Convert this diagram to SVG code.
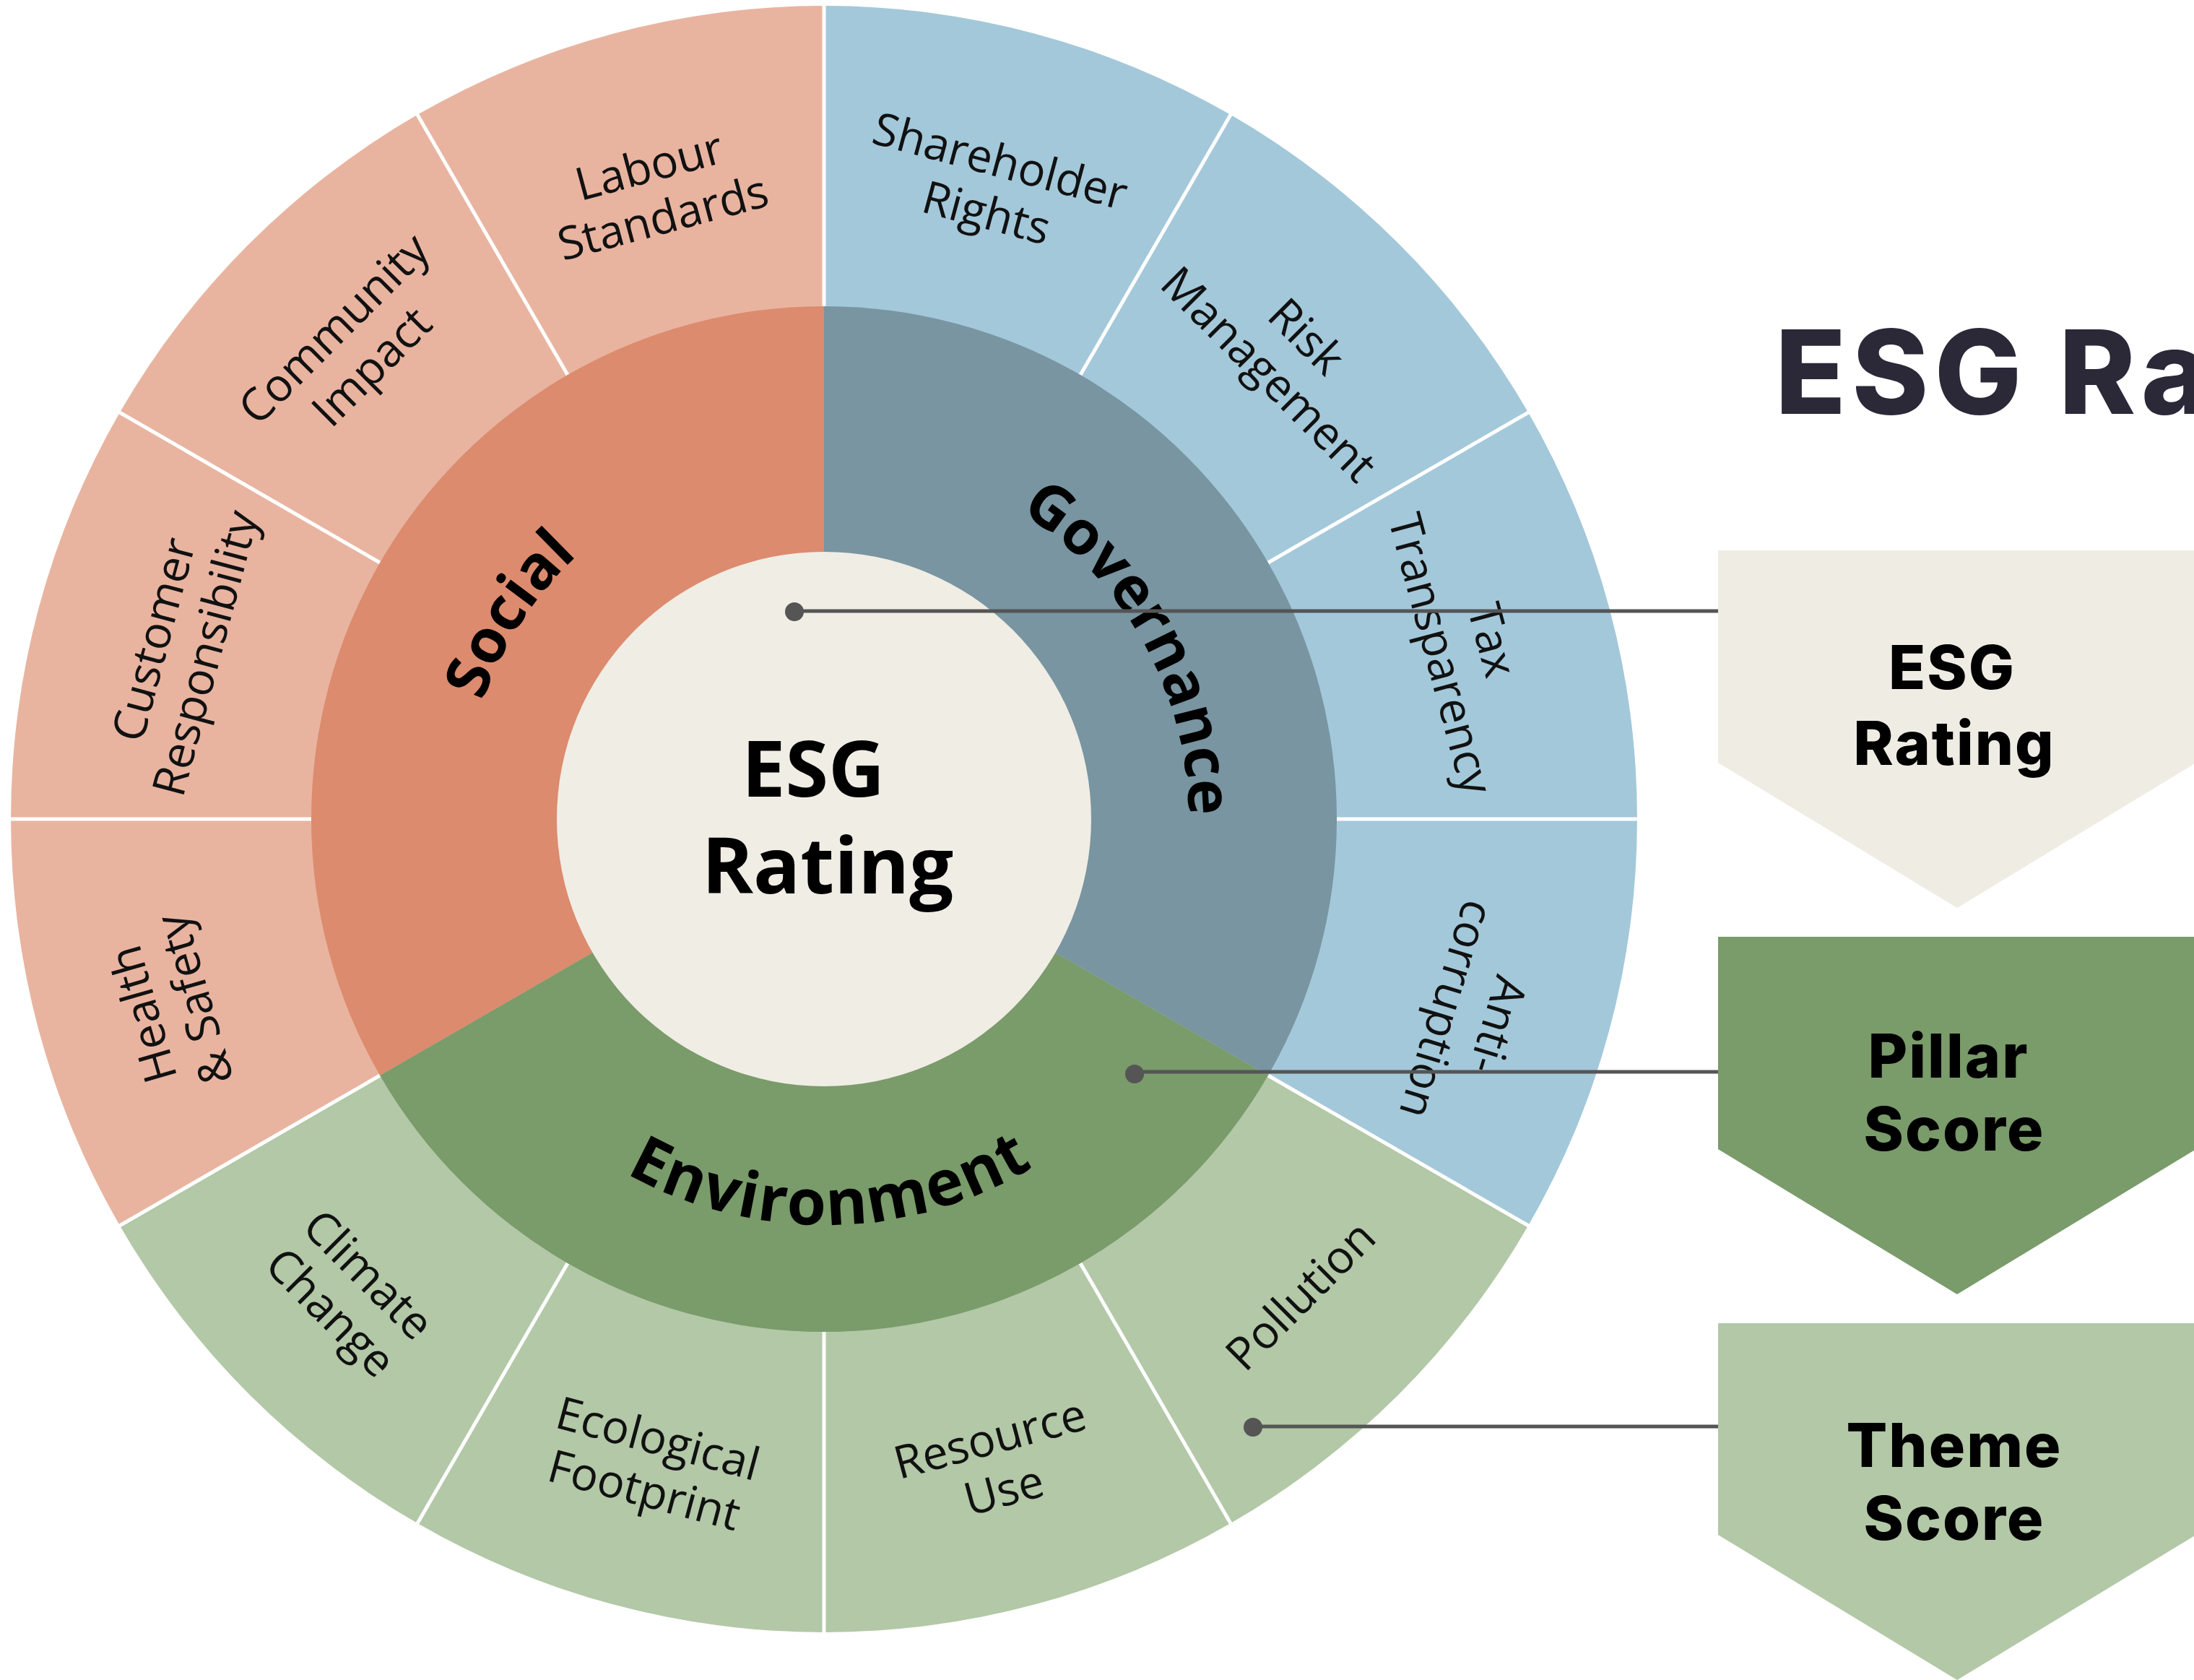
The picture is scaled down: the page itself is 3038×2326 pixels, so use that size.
<svg xmlns="http://www.w3.org/2000/svg" width="3038" height="2326" viewBox="0 0 3038 2326">
  <style>
    .theme { font-family: "Open Sans", "Liberation Sans", sans-serif; font-size: 63px; fill: #111; text-anchor: middle; }
    .pillar { font-family: "Open Sans", "Liberation Sans", sans-serif; font-weight: 700; font-size: 84px; fill: #000; }
    .env { font-size: 88px; letter-spacing: 2px; }
    .center { font-family: "Open Sans", "Liberation Sans", sans-serif; font-weight: 700; font-size: 108px; fill: #000; text-anchor: middle; }
    .box { font-family: "Inter", "Liberation Sans", sans-serif; font-weight: 800; font-size: 84px; fill: #000; text-anchor: middle; letter-spacing: 2px; }
    .title { font-family: "Inter", "Liberation Sans", sans-serif; font-weight: 800; font-size: 161px; fill: #2B2838; letter-spacing: 8px; }
    .div { stroke: #fff; stroke-width: 5; }
    .conn { stroke: #555; stroke-width: 5; fill: none; }
    .dot { fill: #555; }
  </style>
  <defs>
    <path id="arcSocial" d="M695.5,1361 A500,500 0 0 1 1167.2,634.7"/>
    <path id="arcGov" d="M1149.8,629.1 A505,505 0 0 1 1573.9,1394.1"/>
    <path id="arcEnv" d="M659.3,1423.4 A562,562 0 0 0 1632.5,1406.5"/>
  </defs>
  <rect width="3038" height="2326" fill="#fff"/>

  <g id="wheel-outer">
    <path d="M1141,1134 L1141,8 A1126,1126 0 0 0 165.9,1697 Z" fill="#E8B4A0"/>
    <path d="M1141,1134 L1141,8 A1126,1126 0 0 1 2116.1,1697 Z" fill="#A3C8DA"/>
    <path d="M1141,1134 L165.9,1697 A1126,1126 0 0 0 2116.1,1697 Z" fill="#B2C8A7"/>
  </g>
  <g id="dividers">
    <line class="div" x1="1851" y1="1134" x2="2270" y2="1134"/>
    <line class="div" x1="1755.9" y1="779" x2="2119" y2="569.5"/>
    <line class="div" x1="1496" y1="519.1" x2="1705.5" y2="156.3"/>
    <line class="div" x1="1141" y1="424" x2="1141" y2="5"/>
    <line class="div" x1="786" y1="519.1" x2="576.5" y2="156.3"/>
    <line class="div" x1="526.1" y1="779" x2="163" y2="569.5"/>
    <line class="div" x1="431" y1="1134" x2="12" y2="1134"/>
    <line class="div" x1="526.1" y1="1489" x2="163" y2="1698.5"/>
    <line class="div" x1="786" y1="1748.9" x2="576.5" y2="2111.7"/>
    <line class="div" x1="1141" y1="1844" x2="1141" y2="2263"/>
    <line class="div" x1="1496" y1="1748.9" x2="1705.5" y2="2111.7"/>
    <line class="div" x1="1755.9" y1="1489" x2="2119" y2="1698.5"/>
  </g>
  <g id="pillar-social">
    <path d="M1141,1134 L1141,424 A710,710 0 0 0 526.1,1489 Z" fill="#DC8B6E"/>
    <text class="pillar"><textPath href="#arcSocial" startOffset="50%" text-anchor="middle">Social</textPath></text>
  </g>
  <g id="pillar-governance">
    <path d="M1141,1134 L1141,424 A710,710 0 0 1 1755.9,1489 Z" fill="#7895A1"/>
  </g>
  <g id="pillar-environment">
    <path d="M1141,1134 L526.1,1489 A710,710 0 0 0 1755.9,1489 Z" fill="#7A9B6A"/>
    <text class="pillar env"><textPath href="#arcEnv" startOffset="50%" text-anchor="middle">Environment</textPath></text>
  </g>
  <g id="pillar-governance-label">
    <text class="pillar"><textPath href="#arcGov" startOffset="50%" text-anchor="middle">Governance</textPath></text>
  </g>
  <g id="esg-core">
    <circle cx="1141" cy="1134" r="370" fill="#F0EDE5"/>
    <text class="center" x="1126" y="1103">ESG</text>
    <text class="center" x="1146" y="1237">Rating</text>
  </g>

  <g id="theme-labour" transform="translate(1141,1134) rotate(-15)">
    <text class="theme"><tspan x="0" y="-914">Labour</tspan><tspan x="0" y="-840">Standards</tspan></text>
  </g>
  <g id="theme-community" transform="translate(1141,1134) rotate(-45)">
    <text class="theme"><tspan x="0" y="-938">Community</tspan><tspan x="0" y="-864">Impact</tspan></text>
  </g>
  <g id="theme-customer" transform="translate(1141,1134) rotate(-75)">
    <text class="theme"><tspan x="0" y="-939">Customer</tspan><tspan x="0" y="-865">Responsibility</tspan></text>
  </g>
  <g id="theme-health" transform="translate(1141,1134) rotate(-106)">
    <text class="theme"><tspan x="0" y="-959">Health</tspan><tspan x="0" y="-885">&amp; Safety</tspan></text>
  </g>
  <g id="theme-shareholder" transform="translate(1141,1134) rotate(15)">
    <text class="theme"><tspan x="0" y="-921">Shareholder</tspan><tspan x="0" y="-847">Rights</tspan></text>
  </g>
  <g id="theme-risk" transform="translate(1141,1134) rotate(45)">
    <text class="theme"><tspan x="0" y="-923">Risk</tspan><tspan x="0" y="-849">Management</tspan></text>
  </g>
  <g id="theme-tax" transform="translate(1141,1134) rotate(75)">
    <text class="theme"><tspan x="0" y="-936">Tax</tspan><tspan x="0" y="-862">Transparency</tspan></text>
  </g>
  <g id="theme-anticorruption" transform="translate(1141,1134) rotate(107)">
    <text class="theme"><tspan x="0" y="-954">Anti-</tspan><tspan x="0" y="-880">corruption</tspan></text>
  </g>
  <g id="theme-climate" transform="translate(1141,1134) rotate(45)">
    <text class="theme"><tspan x="0" y="914">Climate</tspan><tspan x="0" y="988">Change</tspan></text>
  </g>
  <g id="theme-ecological" transform="translate(1141,1134) rotate(15)">
    <text class="theme"><tspan x="0" y="910">Ecological</tspan><tspan x="0" y="984">Footprint</tspan></text>
  </g>
  <g id="theme-resource" transform="translate(1141,1134) rotate(-15)">
    <text class="theme"><tspan x="0" y="910">Resource</tspan><tspan x="0" y="984">Use</tspan></text>
  </g>
  <g id="theme-pollution" transform="translate(1141,1134) rotate(-45)">
    <text class="theme" x="0" y="955">Pollution</text>
  </g>

  <g id="title">
    <text class="title" x="2458" y="573">ESG Ra</text>
  </g>

  <g id="legend-esg-rating">
    <polygon points="2379,762 3041,762 3041,1056 2710,1257 2379,1056" fill="#EFECE4"/>
    <text class="box" x="2703" y="954">ESG</text>
    <text class="box" x="2706" y="1059">Rating</text>
  </g>
  <g id="legend-pillar-score">
    <polygon points="2379,1297 3041,1297 3041,1591 2710,1792 2379,1591" fill="#7A9B6A"/>
    <text class="box" x="2698" y="1492">Pillar</text>
    <text class="box" x="2706" y="1593">Score</text>
  </g>
  <g id="legend-theme-score">
    <polygon points="2379,1832 3041,1832 3041,2125 2710,2326 2379,2125" fill="#B2C8A7"/>
    <text class="box" x="2706" y="2031">Theme</text>
    <text class="box" x="2706" y="2132">Score</text>
  </g>

  <g id="connectors">
    <line class="conn" x1="1100" y1="846" x2="2379" y2="846"/>
    <circle class="dot" cx="1100" cy="847" r="13"/>
    <line class="conn" x1="1571" y1="1484" x2="2379" y2="1484"/>
    <circle class="dot" cx="1571" cy="1487" r="13"/>
    <line class="conn" x1="1735" y1="1975" x2="2379" y2="1975"/>
    <circle class="dot" cx="1735" cy="1976" r="13"/>
  </g>
</svg>
